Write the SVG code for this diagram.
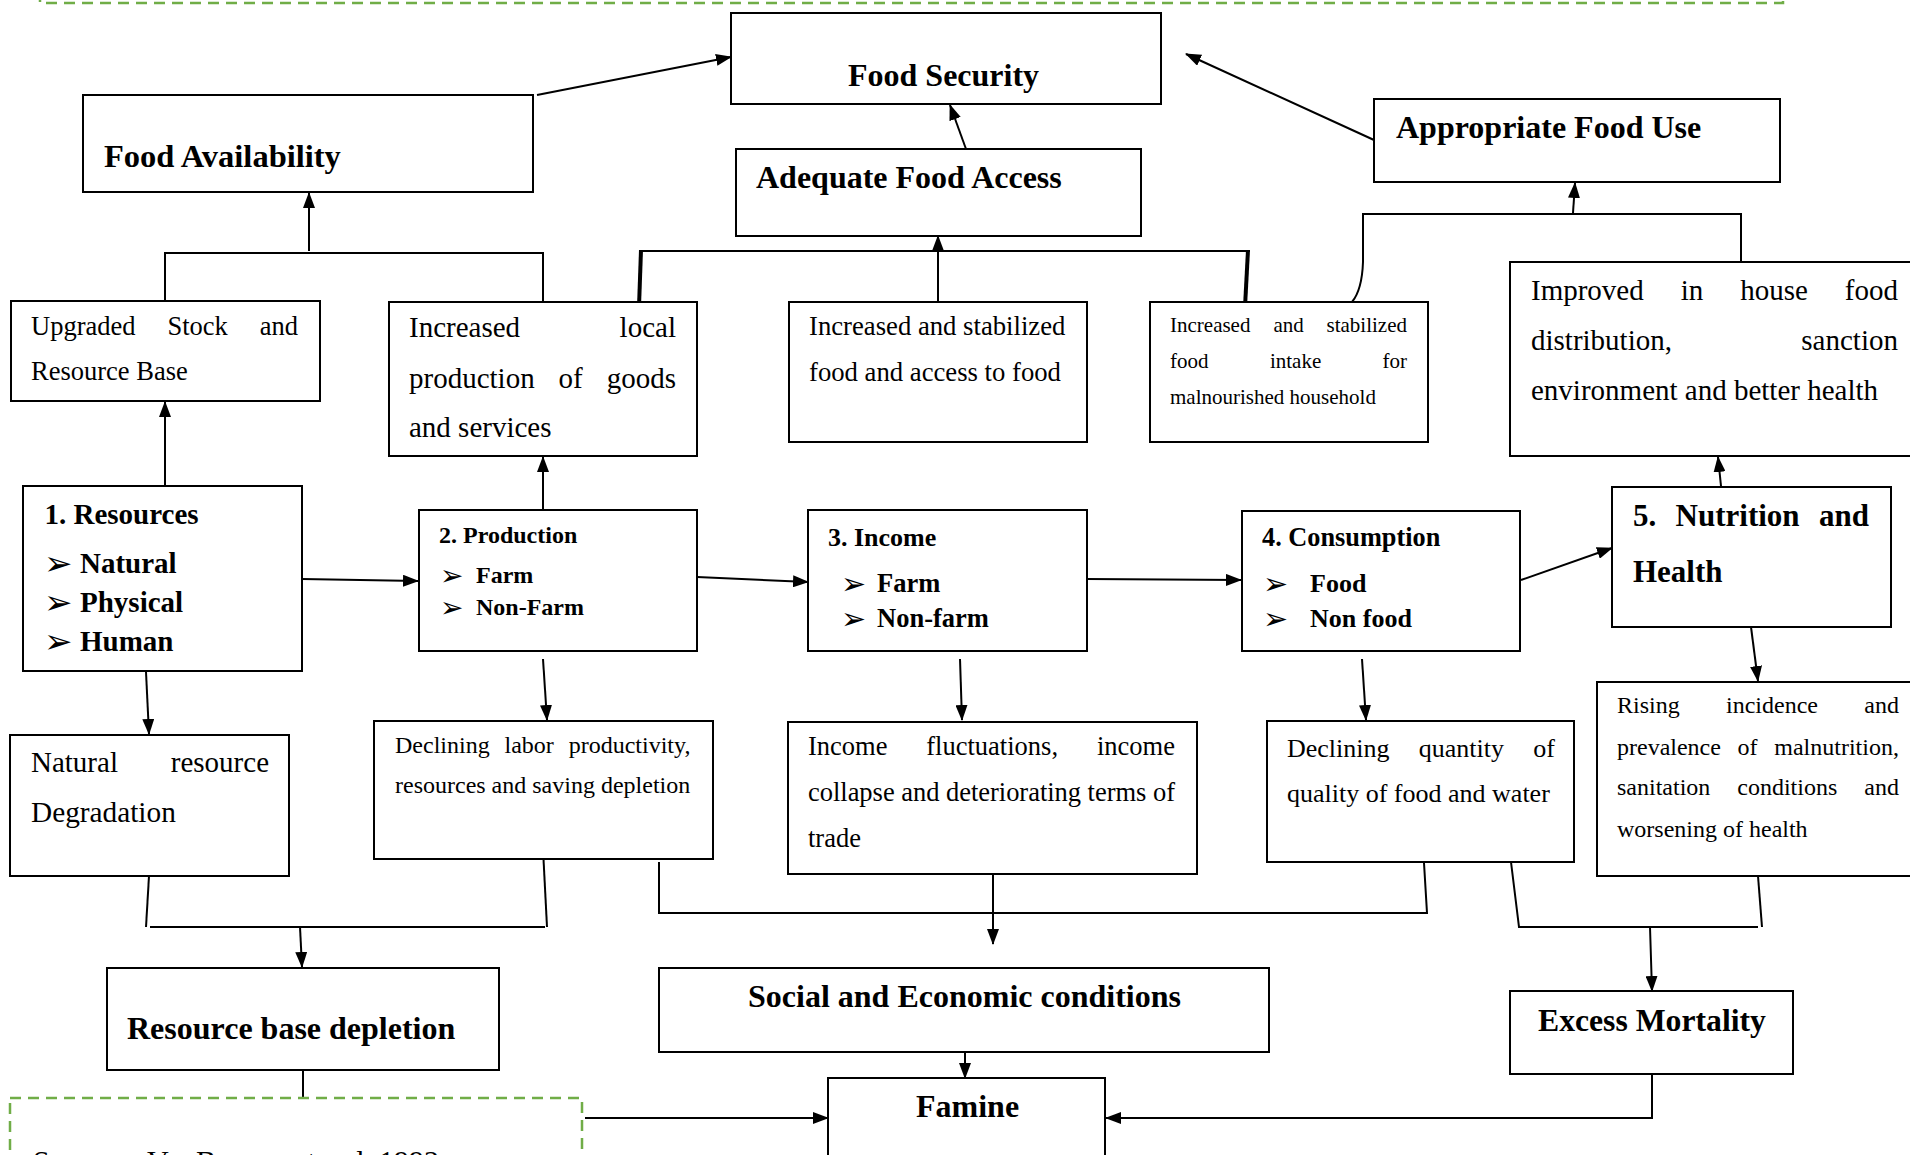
<svg xmlns="http://www.w3.org/2000/svg" width="1910" height="1155" viewBox="0 0 1910 1155">
<defs>
<style>
.box{fill:#fff;stroke:#000;stroke-width:2}
.ln{fill:none;stroke:#000;stroke-width:2}
.thk{fill:none;stroke:#000;stroke-width:4}
.ar{fill:none;stroke:#000;stroke-width:2;marker-end:url(#ah)}
.dash{fill:none;stroke:#70AD47;stroke-width:2.5;stroke-dasharray:11 7}
text{font-family:"Liberation Serif","Times New Roman",serif;fill:#000}
.b{font-weight:bold}
.bul{font-family:"DejaVu Sans",sans-serif;font-weight:normal}
</style>
<marker id="ah" viewBox="0 0 16 12" refX="15" refY="6" markerWidth="16" markerHeight="12" markerUnits="userSpaceOnUse" orient="auto"><path d="M0,0 L16,6 L0,12 Z" fill="#000"/></marker>
</defs>
<rect x="0" y="0" width="1910" height="1155" fill="#fff"/>

<g id="frame-top"><rect class="dash" x="40" y="-200" width="1743" height="203"/></g>

<g id="connectors">
<line class="ar" x1="537" y1="95" x2="731" y2="57"/>
<line class="ar" x1="966" y1="149" x2="950" y2="105"/>
<line class="ar" x1="1374" y1="140" x2="1186" y2="54"/>
<polyline class="ln" points="165,301 165,253 543,253 543,302"/>
<line class="ar" x1="309" y1="251" x2="309" y2="193"/>
<line class="thk" x1="639" y1="307" x2="641" y2="250"/>
<line class="thk" x1="1245" y1="307" x2="1248" y2="250"/>
<line class="ln" stroke-width="2.5" x1="639" y1="251" x2="1250" y2="251"/>
<line class="ar" x1="938" y1="301" x2="938" y2="236"/>
<path class="ln" d="M1741,262 L1741,214 L1363,214 L1363,262 Q1362,290 1352,302"/>
<line class="ar" x1="1573" y1="213" x2="1575" y2="183"/>
<line class="ar" x1="165" y1="486" x2="165" y2="402"/>
<line class="ar" x1="543" y1="510" x2="543" y2="457"/>
<line class="ar" x1="1721" y1="486" x2="1718" y2="457"/>
<line class="ar" x1="302" y1="579" x2="418" y2="581"/>
<line class="ar" x1="697" y1="577" x2="808" y2="582"/>
<line class="ar" x1="1087" y1="579" x2="1241" y2="580"/>
<line class="ar" x1="1521" y1="580" x2="1612" y2="548"/>
<line class="ar" x1="146" y1="672" x2="149" y2="734"/>
<line class="ar" x1="543" y1="659" x2="547" y2="720"/>
<line class="ar" x1="960" y1="659" x2="962" y2="720"/>
<line class="ar" x1="1362" y1="659" x2="1366" y2="720"/>
<line class="ar" x1="1751" y1="627" x2="1758" y2="681"/>
<line class="ln" x1="149" y1="876" x2="146" y2="927"/>
<line class="ln" x1="543.5" y1="859" x2="547" y2="927"/>
<line class="ln" stroke-width="3" x1="150" y1="927" x2="545" y2="927"/>
<line class="ar" x1="300" y1="927" x2="302" y2="967"/>
<polyline class="ln" points="659,862 659,913 1427,913 1424,863"/>
<line class="ar" x1="993" y1="875" x2="993" y2="944"/>
<polyline class="ln" points="1511,862 1519,927 1758,927"/>
<line class="ln" x1="1758" y1="876" x2="1762" y2="927"/>
<line class="ar" x1="1650" y1="927" x2="1652" y2="991"/>
<line class="ar" x1="965" y1="1052" x2="965" y2="1078"/>
<line class="ln" x1="303" y1="1070" x2="303" y2="1098"/>
<line class="ar" x1="585" y1="1118" x2="828" y2="1118"/>
<polyline class="ar" points="1652,1074 1652,1118 1106,1118"/>
</g>

<g id="food-security"><rect class="box" x="731" y="13" width="430" height="91"/>
<text class="b" x="848" y="86" font-size="32">Food Security</text></g>

<g id="food-availability"><rect class="box" x="83" y="95" width="450" height="97"/>
<text class="b" x="104" y="167" font-size="32.5">Food Availability</text></g>

<g id="adequate-food-access"><rect class="box" x="736" y="149" width="405" height="87"/>
<text class="b" x="756" y="188" font-size="32">Adequate Food Access</text></g>

<g id="appropriate-food-use"><rect class="box" x="1374" y="99" width="406" height="83"/>
<text class="b" x="1396" y="138" font-size="32">Appropriate Food Use</text></g>

<g id="upgraded-stock"><rect class="box" x="11" y="301" width="309" height="100"/>
<text font-size="26.5" y="335"><tspan x="31">Upgraded</tspan><tspan x="167.4">Stock</tspan><tspan x="259.8">and</tspan></text>
<text font-size="26.5" x="31" y="380">Resource Base</text></g>

<g id="increased-local-production"><rect class="box" x="389" y="302" width="308" height="154"/>
<text font-size="29" y="337"><tspan x="409">Increased</tspan><tspan x="619.6">local</tspan></text>
<text font-size="29" y="388"><tspan x="409">production</tspan><tspan x="558.6">of</tspan><tspan x="606.7">goods</tspan></text>
<text font-size="29" x="409" y="437">and services</text></g>

<g id="increased-stabilized-food"><rect class="box" x="789" y="302" width="298" height="140"/>
<text font-size="26.7" x="809" y="335">Increased and stabilized</text>
<text font-size="26.7" x="809" y="381">food and access to food</text></g>

<g id="increased-food-intake"><rect class="box" x="1150" y="302" width="278" height="140"/>
<text font-size="21" y="332"><tspan x="1170">Increased</tspan><tspan x="1273.4">and</tspan><tspan x="1326.5">stabilized</tspan></text>
<text font-size="21" y="368"><tspan x="1170">food</tspan><tspan x="1269.9">intake</tspan><tspan x="1382.5">for</tspan></text>
<text font-size="21" x="1170" y="404">malnourished household</text></g>

<g id="improved-in-house"><rect class="box" x="1510" y="262" width="420" height="194"/>
<text font-size="29" y="300"><tspan x="1531">Improved</tspan><tspan x="1680.7">in</tspan><tspan x="1740.2">house</tspan><tspan x="1844.8">food</tspan></text>
<text font-size="29" y="350"><tspan x="1531">distribution,</tspan><tspan x="1801.3">sanction</tspan></text>
<text font-size="29" x="1531" y="400">environment and better health</text></g>

<g id="resources"><rect class="box" x="23" y="486" width="279" height="185"/>
<text class="b" font-size="29" x="44.5" y="524">1. Resources</text>
<text class="bul" font-size="34" x="44" y="575">➢</text><text class="b" font-size="29" x="80" y="573">Natural</text>
<text class="bul" font-size="34" x="44" y="614">➢</text><text class="b" font-size="29" x="80" y="612">Physical</text>
<text class="bul" font-size="34" x="44" y="653">➢</text><text class="b" font-size="29" x="80" y="651">Human</text></g>

<g id="production"><rect class="box" x="419" y="510" width="278" height="141"/>
<text class="b" font-size="24" x="439" y="543">2. Production</text>
<text class="bul" font-size="28" x="440" y="585">➢</text><text class="b" font-size="24" x="476" y="583">Farm</text>
<text class="bul" font-size="28" x="440" y="617">➢</text><text class="b" font-size="24" x="476" y="615">Non-Farm</text></g>

<g id="income"><rect class="box" x="808" y="510" width="279" height="141"/>
<text class="b" font-size="26" x="828" y="546">3. Income</text>
<text class="bul" font-size="30" x="841" y="594">➢</text><text class="b" font-size="26.5" x="877" y="592">Farm</text>
<text class="bul" font-size="30" x="841" y="629">➢</text><text class="b" font-size="26.5" x="877" y="627">Non-farm</text></g>

<g id="consumption"><rect class="box" x="1242" y="511" width="278" height="140"/>
<text class="b" font-size="26.3" x="1262" y="546">4. Consumption</text>
<text class="bul" font-size="30" x="1263" y="594">➢</text><text class="b" font-size="26" x="1310" y="592">Food</text>
<text class="bul" font-size="30" x="1263" y="629">➢</text><text class="b" font-size="26" x="1310" y="627">Non food</text></g>

<g id="nutrition-health"><rect class="box" x="1612" y="487" width="279" height="140"/>
<text class="b" font-size="31" y="526"><tspan x="1633">5.</tspan><tspan x="1675.6">Nutrition</tspan><tspan x="1819">and</tspan></text>
<text class="b" font-size="31" x="1633" y="582">Health</text></g>

<g id="natural-resource-degradation"><rect class="box" x="10" y="735" width="279" height="141"/>
<text font-size="29" y="772"><tspan x="31">Natural</tspan><tspan x="170.8">resource</tspan></text>
<text font-size="29.3" x="31" y="822">Degradation</text></g>

<g id="declining-labor"><rect class="box" x="374" y="721" width="339" height="138"/>
<text font-size="24" y="753"><tspan x="395">Declining</tspan><tspan x="504.5">labor</tspan><tspan x="568.7">productivity,</tspan></text>
<text font-size="24" x="395" y="793">resources and saving depletion</text></g>

<g id="income-fluctuations"><rect class="box" x="788" y="722" width="409" height="152"/>
<text font-size="26.5" y="755"><tspan x="808">Income</tspan><tspan x="926.3">fluctuations,</tspan><tspan x="1097">income</tspan></text>
<text font-size="26.5" x="808" y="801" textLength="367" lengthAdjust="spacing">collapse and deteriorating terms of</text>
<text font-size="26.5" x="808" y="847">trade</text></g>

<g id="declining-quantity"><rect class="box" x="1267" y="721" width="307" height="141"/>
<text font-size="26" y="757"><tspan x="1287">Declining</tspan><tspan x="1418.8">quantity</tspan><tspan x="1533.3">of</tspan></text>
<text font-size="26" x="1287" y="802">quality of food and water</text></g>

<g id="rising-incidence"><rect class="box" x="1597" y="682" width="330" height="194"/>
<text font-size="24" y="713"><tspan x="1617">Rising</tspan><tspan x="1726">incidence</tspan><tspan x="1864.3">and</tspan></text>
<text font-size="24" y="755"><tspan x="1617">prevalence</tspan><tspan x="1737.6">of</tspan><tspan x="1774.3">malnutrition,</tspan></text>
<text font-size="24" y="795"><tspan x="1617">sanitation</tspan><tspan x="1737.3">conditions</tspan><tspan x="1864.3">and</tspan></text>
<text font-size="24" x="1617" y="837">worsening of health</text></g>

<g id="resource-base-depletion"><rect class="box" x="107" y="968" width="392" height="102"/>
<text class="b" font-size="32" x="127" y="1039">Resource base depletion</text></g>

<g id="social-economic"><rect class="box" x="659" y="968" width="610" height="84"/>
<text class="b" font-size="32" x="748" y="1007">Social and Economic conditions</text></g>

<g id="excess-mortality"><rect class="box" x="1510" y="991" width="283" height="83"/>
<text class="b" font-size="31.7" x="1538" y="1031">Excess Mortality</text></g>

<g id="famine"><rect class="box" x="828" y="1078" width="277" height="120"/>
<text class="b" font-size="32" x="916" y="1117">Famine</text></g>

<g id="source-note"><rect class="dash" x="10" y="1098" width="572" height="120"/>
<text font-size="30" y="1171"><tspan x="33">Source:</tspan><tspan x="147">Von</tspan><tspan x="196">Braun</tspan><tspan x="294">et</tspan><tspan x="343">al.</tspan><tspan x="379">1992</tspan></text></g>
</svg>
